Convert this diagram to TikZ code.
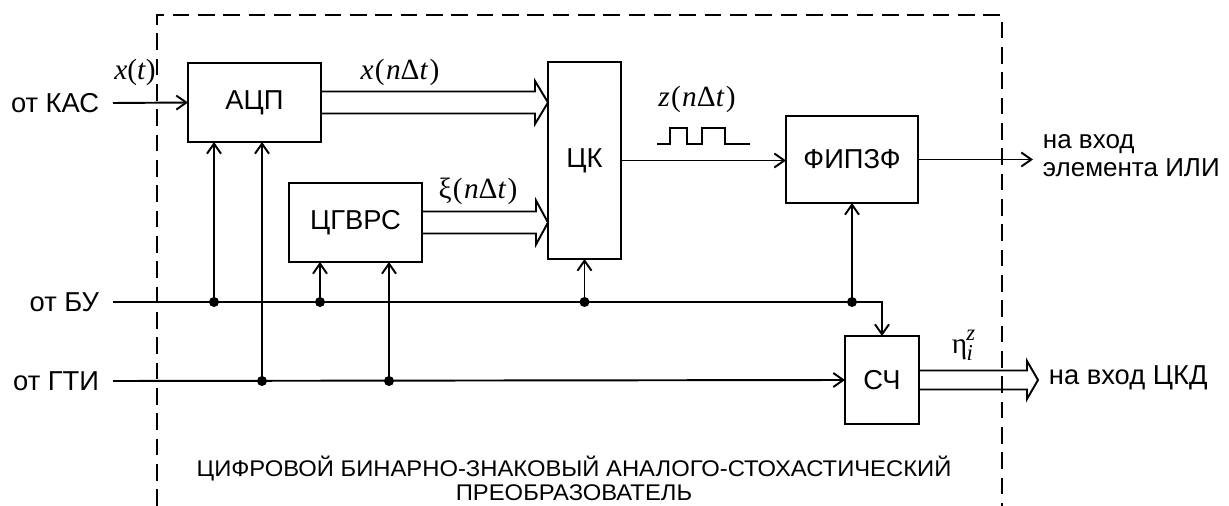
\documentclass[tikz,border=0pt]{standalone}
\usepackage{fontspec}
\setmainfont{Liberation Sans}
\newfontfamily\tms{Liberation Serif}
\usetikzlibrary{arrows.meta,calc}
\newcommand\dblarrow[5]{%
  \draw[bus] ($(#1)+(0,-#3)$) -- ($(#2)+(-#5,-#3)$) -- ($(#2)+(-#5,-#4)$) -- (#2)
    -- ($(#2)+(-#5,#4)$) -- ($(#2)+(-#5,#3)$) -- ($(#1)+(0,#3)$);}
\begin{document}
\begin{tikzpicture}[x=0.75pt,y=-0.75pt,line width=1.45pt,
  blk/.style={draw,line width=1.6pt,inner sep=0pt,outer sep=0pt,font=\fontsize{20.5}{23}\selectfont},
  lab/.style={inner sep=0pt,font=\fontsize{20.5}{23}\selectfont},
  mlab/.style={inner sep=0pt,font=\fontsize{22}{24}\selectfont\tms},
  sig/.style={-{Straight Barb[length=7.5pt,width=10.5pt,line width=1.45pt]}},
  jdot/.style={circle,fill,inner sep=0pt,minimum size=7.5pt},
  frame/.style={dash pattern=on 12.5pt off 6.5pt,line width=1.5pt},
  bus/.style={line width=1.45pt,line join=miter}]
\useasboundingbox (0,0) rectangle (1229,506);

% frame
\coordinate (fbl) at (157,506);
\coordinate (ftl) at (157,15);
\coordinate (ftr) at (1002,15);
\coordinate (fbr) at (1002,506);
\draw[frame] (fbl) -- (ftl) -- (ftr) -- (fbr);

% blocks
\node[blk,minimum width=99.75pt,minimum height=59.25pt] (adc) at (254.5,102.5) {АЦП};
\node[blk,minimum width=54.75pt,minimum height=147.75pt] (ck) at (584.5,160.5) {ЦК};
\node[blk,minimum width=99.75pt,minimum height=59.25pt] (gen) at (355.5,222.5) {ЦГВРС};
\node[blk,minimum width=99pt,minimum height=65.25pt] (fip) at (852,159.5) {ФИПЗФ};
\node[blk,minimum width=55.5pt,minimum height=66pt] (sch) at (882,380) {СЧ};

% input labels and line starts
\node[lab,anchor=east] (kasL) at (100,103) {от КАС};
\node[lab,anchor=east] (buL) at (100,302) {от БУ};
\node[lab,anchor=east] (gtiL) at (100,381) {от ГТИ};
\coordinate (kasS) at (113,103);
\coordinate (buS) at (113,302);
\coordinate (gtiS) at (113,381);

% junctions
\coordinate (bu1) at (214,302);
\coordinate (bu2) at (320,302);
\coordinate (bu3) at (ck.south |- buS);
\coordinate (bu4) at (fip.south |- buS);
\coordinate (gt1) at (262,381);
\coordinate (gt2) at (389,381);

% x(t) input
\draw[sig] (kasS) -- (adc.west);
\node[mlab] (xt) at (135,72) {\textit{x}(\textit{t})};

% control lines
\draw[sig] (buS) -- (buS -| sch.north) -- (sch.north);
\draw[sig] (gtiS) -- (sch.west);
\draw[sig] (bu1) -- (bu1 |- adc.south);
\draw[sig] (gt1) -- (gt1 |- adc.south);
\draw[sig] (bu2) -- (bu2 |- gen.south);
\draw[sig] (gt2) -- (gt2 |- gen.south);
\draw[sig] (bu3) -- (ck.south);
\draw[sig] (bu4) -- (fip.south);
\foreach \j in {bu1,bu2,bu3,bu4,gt1,gt2} \node[jdot] at (\j) {};

% buses
\coordinate (t1) at (ck.west |- adc.east);
\coordinate (t2) at (ck.west |- gen.east);
\coordinate (t3) at (1038,380);
\dblarrow{adc.east}{t1}{11}{21.5}{13}
\dblarrow{gen.east}{t2}{11}{22}{12}
\dblarrow{sch.east}{t3}{9.5}{19}{11}
\node[mlab] (xn) at (400,72) {\textit{x}\kern1pt(\kern1pt\textit{n}Δ\textit{t}\kern1pt)};
\node[mlab] (xi) at (478,191) {ξ\kern1pt(\kern1pt\textit{n}Δ\textit{t}\kern1pt)};
\node[mlab,anchor=west] (eta) at (951,345) {η\kern-0.5pt\raisebox{-5pt}{\fontsize{17}{18}\selectfont\textit{i}}\kern-5pt\raisebox{10pt}{\fontsize{17}{18}\selectfont\textit{z}}};

% CK -> FIPZF
\draw[sig] (ck.east) -- (ck.east -| fip.west);
\node[mlab] (zn) at (697,99) {\textit{z}\kern1pt(\kern1pt\textit{n}Δ\textit{t}\kern1pt)};
\coordinate (p0) at (657,144);
\draw (p0) -- (670,144) -- (670,128) -- (687,128) -- (687,144) -- (702,144)
  -- (702,128) -- (725,128) -- (725,144) -- (750,144);

% outputs
\coordinate (orOut) at (1033,160);
\draw[sig] (fip.east) -- (fip.east -| orOut);
\node[lab,anchor=west,align=left,font=\fontsize{19.5}{21}\selectfont] (orL) at (1042,156) {на вход\\элемента ИЛИ};
\node[lab,anchor=west] (ckdL) at (1048,378) {на вход ЦКД};

% caption
\node[align=center,inner sep=0pt,font=\fontsize{17}{18}\selectfont] (cap) at (574,478)
  {\scalebox{1.05}[1]{ЦИФРОВОЙ БИНАРНО-ЗНАКОВЫЙ АНАЛОГО-СТОХАСТИЧЕСКИЙ}\\\scalebox{1.05}[1]{ПРЕОБРАЗОВАТЕЛЬ}};
\end{tikzpicture}
\end{document}
